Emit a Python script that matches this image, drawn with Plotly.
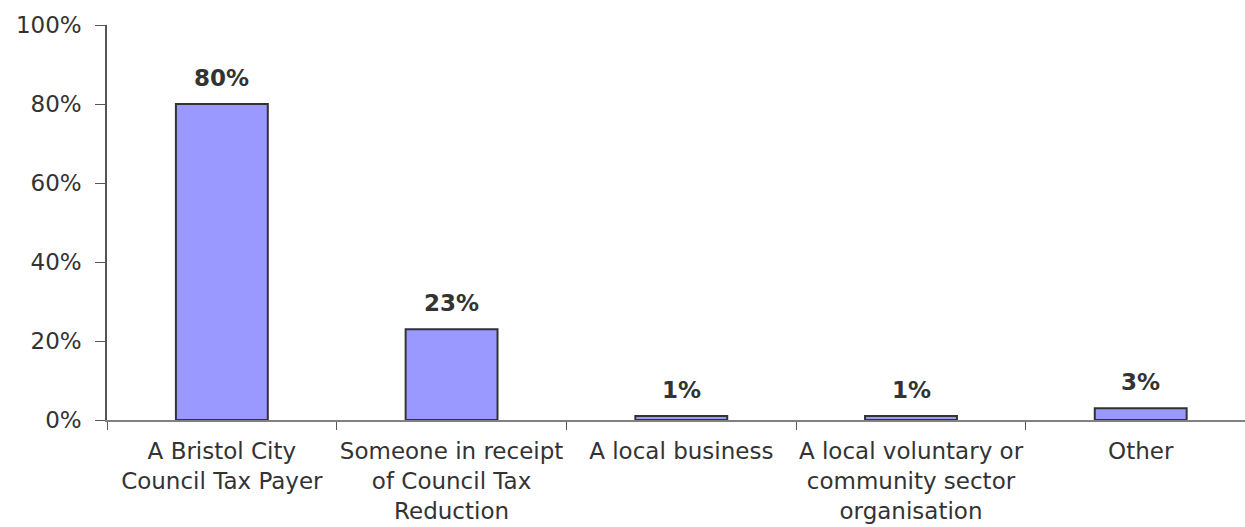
import plotly.graph_objects as go

# Respondent type categories and share of respondents (%)
categories = [
    "A Bristol City<br>Council Tax Payer",
    "Someone in receipt<br>of Council Tax<br>Reduction",
    "A local business",
    "A local voluntary or<br>community sector<br>organisation",
    "Other",
]
shares = [80, 23, 1, 1, 3]
y_ticks = [0, 20, 40, 60, 80, 100]
y_tick_labels = [f"{v}%" for v in y_ticks]

TEXT = "#333333"
FONT = "DejaVu Sans"

fig = go.Figure(
    go.Bar(
        x=categories,
        y=shares,
        width=0.4,
        marker=dict(color="#9999FF", line=dict(color="#333333", width=2)),
        hoverinfo="skip",
    )
)

# Bold value labels above each bar
for cat, val in zip(categories, shares):
    fig.add_annotation(
        x=cat, y=val, text=f"<b>{val}%</b>",
        showarrow=False, yanchor="bottom", yshift=11,
        font=dict(family=FONT, size=23, color=TEXT),
    )

fig.update_layout(
    width=1245, height=527,
    margin=dict(l=107, r=0, t=25, b=107),
    paper_bgcolor="white", plot_bgcolor="white",
    showlegend=False,
    font=dict(family=FONT, size=23, color=TEXT),
    xaxis=dict(
        type="category",
        range=[-0.5, 4.454],
        automargin=False,
        tickangle=0,
        showline=True, linecolor="#808080", linewidth=1.5,
        ticks="outside", tickson="boundaries", ticklen=8,
        tickcolor="#555555", tickwidth=1.2,
        showgrid=False,
        ticklabelstandoff=10,
        tickfont=dict(family=FONT, size=23, color=TEXT),
    ),
    yaxis=dict(
        range=[0, 100],
        automargin=False,
        tickvals=y_ticks, ticktext=y_tick_labels,
        showline=True, linecolor="#555555", linewidth=1.5,
        ticks="outside", ticklen=10, tickcolor="#555555", tickwidth=1.2,
        showgrid=False, zeroline=False,
        ticklabelstandoff=9,
        tickfont=dict(family=FONT, size=23, color=TEXT),
    ),
)

fig.write_html("out.html")
